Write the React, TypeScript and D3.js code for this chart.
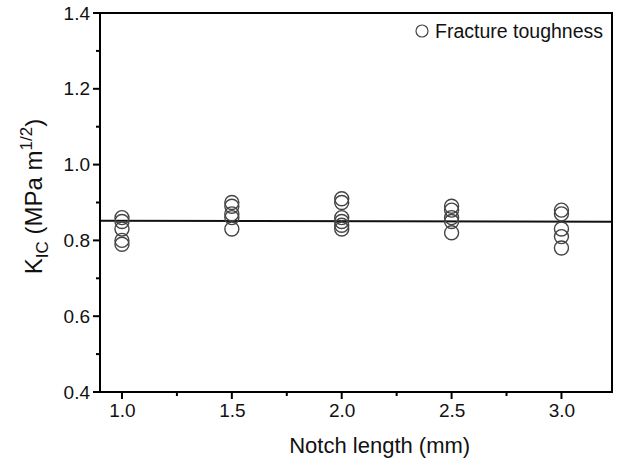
import React, { useEffect, useRef } from 'react';
import * as d3 from 'd3';

// notch length groups (mm)
const notchLengths = [1.0, 1.5, 2.0, 2.5, 3.0];
// measured K_IC values for each notch length
const kicValues = [
  [0.86, 0.85, 0.83, 0.80, 0.79],
  [0.90, 0.89, 0.87, 0.86, 0.83],
  [0.91, 0.90, 0.86, 0.85, 0.84, 0.83],
  [0.89, 0.88, 0.86, 0.85, 0.82],
  [0.88, 0.87, 0.83, 0.81, 0.78],
];
// mean line end points
const meanLineX = [0.9, 3.23];
const meanLineY = [0.852, 0.849];

const xTicks = [1.0, 1.5, 2.0, 2.5, 3.0];
const xMinorTicks = [1.25, 1.75, 2.25, 2.75];
const yTicks = [0.4, 0.6, 0.8, 1.0, 1.2, 1.4];
const yMinorTicks = [0.5, 0.7, 0.9, 1.1, 1.3];

const App = () => {
  const svgRef = useRef<SVGSVGElement | null>(null);

  useEffect(() => {
    if (!svgRef.current) return;
    const svg = d3.select(svgRef.current);
    svg.selectAll('*').remove();

    const margin = { top: 13, right: 13, bottom: 71, left: 100 };
    const width = 625 - margin.left - margin.right;
    const height = 463 - margin.top - margin.bottom;
    const font = 'Liberation Sans, Arial, sans-serif';
    const lw = 2;

    const x = d3.scaleLinear().domain([0.9, 3.23]).range([0, width]);
    const y = d3.scaleLinear().domain([0.4, 1.4]).range([height, 0]);

    const g = svg.append('g').attr('transform', `translate(${margin.left},${margin.top})`);

    // Mean line
    g.append('line')
      .attr('x1', x(meanLineX[0]))
      .attr('x2', x(meanLineX[1]))
      .attr('y1', y(meanLineY[0]))
      .attr('y2', y(meanLineY[1]))
      .style('stroke', '#111')
      .style('stroke-width', 2);

    // Data points
    const points = notchLengths.flatMap((n, i) => kicValues[i].map(v => ({ n, v })));
    g.selectAll('.pt')
      .data(points)
      .enter().append('circle')
      .attr('class', 'pt')
      .attr('cx', d => x(d.n))
      .attr('cy', d => y(d.v))
      .attr('r', 7)
      .style('fill', 'none')
      .style('stroke', '#444')
      .style('stroke-width', 1.4);

    // Frame
    const frame = [
      { x: -lw / 2, y: -lw / 2, w: width + lw, h: lw },
      { x: -lw / 2, y: height - lw / 2, w: width + lw, h: lw },
      { x: -lw / 2, y: -lw / 2, w: lw, h: height + lw },
      { x: width - lw / 2, y: -lw / 2, w: lw, h: height + lw },
    ];
    g.selectAll('.frame')
      .data(frame)
      .enter().append('rect')
      .attr('class', 'frame')
      .attr('x', d => d.x).attr('y', d => d.y)
      .attr('width', d => d.w).attr('height', d => d.h)
      .attr('fill', '#000');

    // Y axis labels
    const yAxis = g.append('g')
      .call(d3.axisLeft(y).tickValues(yTicks).tickSize(0).tickPadding(10).tickFormat(d3.format('.1f')));
    yAxis.select('.domain').remove();
    yAxis.selectAll('.tick line').remove();
    yAxis.selectAll('text').style('font-family', font).style('font-size', '19px').style('fill', '#111');

    // Y tick marks
    g.selectAll('.ymaj')
      .data(yTicks)
      .enter().append('rect')
      .attr('class', 'ymaj')
      .attr('x', -7).attr('y', d => y(d) - lw / 2)
      .attr('width', 7).attr('height', lw)
      .attr('fill', '#000');
    g.selectAll('.ymin')
      .data(yMinorTicks)
      .enter().append('rect')
      .attr('class', 'ymin')
      .attr('x', -4).attr('y', d => y(d) - lw / 2)
      .attr('width', 4).attr('height', lw)
      .attr('fill', '#000');

    // X axis labels
    const xAxis = g.append('g')
      .attr('transform', `translate(0,${height})`)
      .call(d3.axisBottom(x).tickValues(xTicks).tickSize(0).tickPadding(12).tickFormat(d3.format('.1f')));
    xAxis.select('.domain').remove();
    xAxis.selectAll('.tick line').remove();
    xAxis.selectAll('text').style('font-family', font).style('font-size', '19px').style('fill', '#111');

    // X tick marks
    g.selectAll('.xmaj')
      .data(xTicks)
      .enter().append('rect')
      .attr('class', 'xmaj')
      .attr('x', d => x(d) - lw / 2).attr('y', height)
      .attr('width', lw).attr('height', 7)
      .attr('fill', '#000');
    g.selectAll('.xmin')
      .data(xMinorTicks)
      .enter().append('rect')
      .attr('class', 'xmin')
      .attr('x', d => x(d) - lw / 2).attr('y', height)
      .attr('width', lw).attr('height', 4)
      .attr('fill', '#000');

    // Axis titles
    g.append('text')
      .attr('x', x(2.0) + 38)
      .attr('y', height + 61)
      .attr('text-anchor', 'middle')
      .style('font-family', font)
      .style('font-size', '22px')
      .style('fill', '#111')
      .text('Notch length (mm)');

    const yt = g.append('text')
      .attr('transform', `translate(${-58},${height / 2 - 6}) rotate(-90)`)
      .attr('text-anchor', 'middle')
      .style('font-family', font)
      .style('font-size', '24px')
      .style('fill', '#111');
    yt.append('tspan').text('K');
    yt.append('tspan').attr('dy', 6).style('font-size', '17px').text('IC');
    yt.append('tspan').attr('dy', -6).text(' (MPa m');
    yt.append('tspan').attr('dy', -10).style('font-size', '17px').text('1/2');
    yt.append('tspan').attr('dy', 10).text(')');

    // Legend
    const legend = g.append('g').attr('transform', `translate(${width - 190}, 18)`);
    legend.append('circle')
      .attr('cx', 0).attr('cy', 0).attr('r', 6)
      .style('fill', 'none').style('stroke', '#444').style('stroke-width', 1.2);
    legend.append('text')
      .attr('x', 13).attr('y', 0).attr('dy', '0.35em')
      .style('font-family', font)
      .style('font-size', '19.5px')
      .style('fill', '#111')
      .text('Fracture toughness');
  }, []);

  return (
    <svg
      ref={svgRef}
      width={625}
      height={463}
      style={{ position: 'absolute', left: 0, top: 0, background: '#fff' }}
    />
  );
};

export default App;
